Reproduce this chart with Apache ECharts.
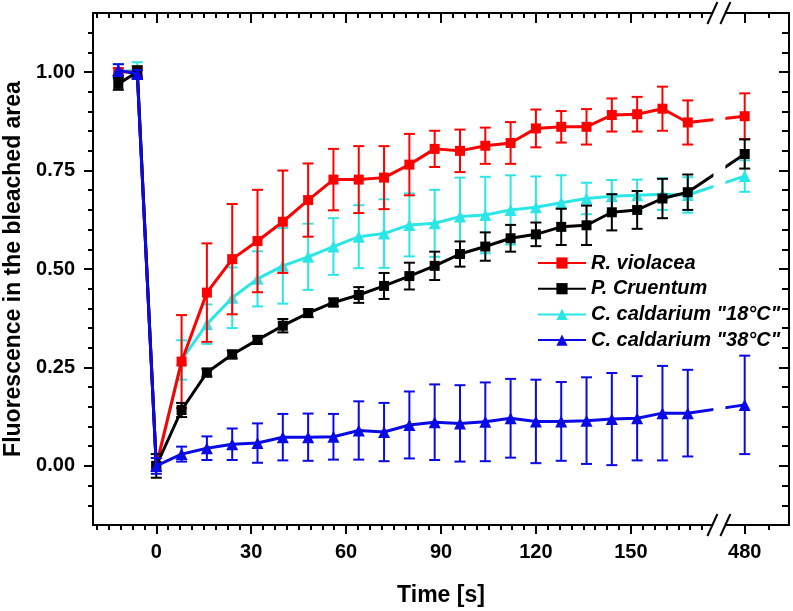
<!DOCTYPE html>
<html>
<head>
<meta charset="utf-8">
<script src="https://cdn.jsdelivr.net/npm/echarts@6/dist/echarts.min.js"></script>
<style>html,body{margin:0;padding:0;background:#fff;}#c{width:793px;height:611px;}</style>
</head>
<body>
<div id="c"></div>
<script>
// ---- data (time in s; the last point lies after the axis break) ----
const time = [-12, -6, 0, 8, 16, 24, 32, 40, 48, 56, 64, 72, 80, 88, 96, 104, 112, 120, 128, 136, 144, 152, 160, 168, 480];

const seriesNames = ['R. violacea', 'P. Cruentum', 'C. caldarium "18°C"', 'C. caldarium "38°C"'];

const rViolacea    = [1.00, 1.00, 0.00, 0.265, 0.44, 0.525, 0.571, 0.62, 0.675, 0.727, 0.727, 0.732, 0.765, 0.805, 0.80, 0.813, 0.82, 0.857, 0.861, 0.861, 0.891, 0.893, 0.907, 0.872, 0.888];
const rViolaceaErr = [0.01, 0.01, 0.00, 0.118, 0.125, 0.14, 0.13, 0.13, 0.093, 0.078, 0.085, 0.08, 0.078, 0.046, 0.054, 0.046, 0.053, 0.048, 0.04, 0.045, 0.042, 0.044, 0.056, 0.056, 0.058];

const pCruentum    = [0.97, 1.00, 0.00, 0.142, 0.237, 0.283, 0.32, 0.356, 0.388, 0.415, 0.434, 0.457, 0.482, 0.508, 0.538, 0.557, 0.578, 0.588, 0.607, 0.611, 0.644, 0.65, 0.679, 0.695, 0.792];
const pCruentumErr = [0.015, 0.015, 0.03, 0.018, 0.01, 0.01, 0.01, 0.017, 0.01, 0.01, 0.02, 0.033, 0.034, 0.036, 0.032, 0.036, 0.034, 0.03, 0.046, 0.05, 0.046, 0.048, 0.05, 0.045, 0.037];

const cCald18    = [1.00, 1.005, 0.00, 0.269, 0.36, 0.427, 0.475, 0.508, 0.531, 0.557, 0.582, 0.59, 0.612, 0.616, 0.633, 0.637, 0.65, 0.657, 0.668, 0.679, 0.685, 0.687, 0.69, 0.688, 0.736];
const cCald18Err = [0.02, 0.02, 0.00, 0.05, 0.05, 0.077, 0.07, 0.096, 0.084, 0.072, 0.08, 0.087, 0.08, 0.085, 0.099, 0.097, 0.088, 0.078, 0.07, 0.04, 0.041, 0.04, 0.04, 0.045, 0.04];

const cCald38    = [1.005, 0.995, 0.00, 0.03, 0.045, 0.055, 0.058, 0.073, 0.073, 0.074, 0.09, 0.086, 0.104, 0.111, 0.108, 0.112, 0.121, 0.113, 0.113, 0.115, 0.119, 0.121, 0.134, 0.134, 0.155];
const cCald38Err = [0.015, 0.01, 0.02, 0.019, 0.03, 0.04, 0.05, 0.059, 0.06, 0.058, 0.074, 0.074, 0.085, 0.096, 0.097, 0.1, 0.1, 0.106, 0.1, 0.11, 0.117, 0.107, 0.12, 0.11, 0.125];

const xMajorTicks = [0, 30, 60, 90, 120, 150, 480];
const xMinorTicks = [-18.75, -15, -11.25, -7.5, -3.75, 3.75, 7.5, 11.25, 15, 18.75, 22.5, 26.25, 33.75, 37.5, 41.25, 45, 48.75, 52.5, 56.25, 63.75, 67.5, 71.25, 75, 78.75, 82.5, 86.25, 93.75, 97.5, 101.25, 105, 108.75, 112.5, 116.25, 123.75, 127.5, 131.25, 135, 138.75, 142.5, 146.25, 153.75, 157.5, 161.25, 165, 168.75, 172.5, 487.5];
const yMajorTicks = [0, 0.25, 0.5, 0.75, 1.0];
const yMinorTicks = [-0.10, -0.05, 0.05, 0.10, 0.15, 0.20, 0.30, 0.35, 0.40, 0.45, 0.55, 0.60, 0.65, 0.70, 0.80, 0.85, 0.90, 0.95, 1.05, 1.10];

// ---- axis break mapping (break between 168 s and 480 s) ----
const BREAK_AT = 178;      // axis position of the break
const BREAK_SHIFT = 294;   // 480 s is drawn at 186 on the compressed axis
function tx(t) { return t > BREAK_AT ? t - BREAK_SHIFT : t; }
function untx(v) { return v > BREAK_AT ? v + BREAK_SHIFT : v; }

const colors = ['#ff0000', '#000000', '#2ce6e6', '#0a0ae6'];
const symbols = ['rect', 'rect', 'triangle', 'triangle'];
const symSizes = [10, 10, 12, 12];
const zs = [3, 4, 2, 5];
const vals = [rViolacea, pCruentum, cCald18, cCald38];
const errs = [rViolaceaErr, pCruentumErr, cCald18Err, cCald38Err];

const FONT = "'Liberation Sans', Arial, Helvetica, sans-serif";

const series = [];
vals.forEach((v, i) => {
  const col = colors[i];
  series.push({
    name: seriesNames[i] + '_err', type: 'custom', xAxisIndex: 0, yAxisIndex: 0, z: zs[i],
    silent: true, animation: false,
    encode: { x: 0, y: [1, 2] },
    data: time.map((t, k) => [tx(t), v[k] - errs[i][k], v[k] + errs[i][k]]),
    renderItem: function (params, api) {
      const x = api.value(0), lo = api.value(1), hi = api.value(2);
      if (hi - lo < 1e-9) return null;
      const p1 = api.coord([x, lo]), p2 = api.coord([x, hi]);
      const w = 5.5, st = { stroke: col, lineWidth: 2 };
      return { type: 'group', children: [
        { type: 'line', shape: { x1: p1[0], y1: p1[1], x2: p2[0], y2: p2[1] }, style: st },
        { type: 'line', shape: { x1: p1[0] - w, y1: p1[1], x2: p1[0] + w, y2: p1[1] }, style: st },
        { type: 'line', shape: { x1: p2[0] - w, y1: p2[1], x2: p2[0] + w, y2: p2[1] }, style: st }
      ]};
    }
  });
  series.push({
    name: seriesNames[i], type: 'line', xAxisIndex: 0, yAxisIndex: 0, z: zs[i],
    animation: false, showSymbol: true, symbol: symbols[i], symbolSize: symSizes[i],
    lineStyle: { color: col, width: 3 }, itemStyle: { color: col },
    data: time.map((t, k) => [tx(t), v[k]])
  });
});

const axisLineStyle = { color: '#000', width: 2 };
const tickStyle = { color: '#000', width: 2 };

const chart = echarts.init(document.getElementById('c'), null, { renderer: 'canvas' });
chart.setOption({
  backgroundColor: '#fff',
  animation: false,
  grid: { left: 93, right: 4, top: 13, bottom: 86, outerBoundsMode: 'none' },
  legend: {
    data: seriesNames, orient: 'vertical', left: 537, top: 253, padding: 0, z: 300,
    itemWidth: 48, itemHeight: 14, itemGap: 5.7,
    textStyle: { fontFamily: FONT, fontSize: 20, fontWeight: 'bold', fontStyle: 'italic', color: '#000' }
  },
  xAxis: [
    { type: 'value', min: -20, max: 200, position: 'bottom',
      axisLine: { show: true, onZero: false, lineStyle: axisLineStyle },
      axisTick: { show: true, inside: false, length: 9, lineStyle: tickStyle, customValues: xMajorTicks.map(tx) },
      axisLabel: { show: true, customValues: xMajorTicks.map(tx), margin: 17, formatter: v => String(Math.round(untx(v))),
        fontFamily: FONT, fontSize: 20, fontWeight: 'bold', color: '#000' },
      splitLine: { show: false },
      name: 'Time [s]', nameLocation: 'middle', nameGap: 59,
      nameTextStyle: { fontFamily: FONT, fontSize: 23, fontWeight: 'bold', color: '#000' } },
    { type: 'value', min: -20, max: 200, position: 'bottom',
      axisLine: { show: false, onZero: false },
      axisTick: { show: true, inside: false, length: 5, lineStyle: tickStyle, customValues: xMinorTicks.map(tx) },
      axisLabel: { show: false }, splitLine: { show: false } },
    { type: 'value', min: -20, max: 200, position: 'top',
      axisLine: { show: true, onZero: false, lineStyle: axisLineStyle },
      axisTick: { show: true, inside: true, length: 10, lineStyle: tickStyle, customValues: xMajorTicks.map(tx) },
      axisLabel: { show: false }, splitLine: { show: false } },
    { type: 'value', min: -20, max: 200, position: 'top',
      axisLine: { show: false, onZero: false },
      axisTick: { show: true, inside: true, length: 5, lineStyle: tickStyle, customValues: xMinorTicks.map(tx) },
      axisLabel: { show: false }, splitLine: { show: false } }
  ],
  yAxis: [
    { type: 'value', min: -0.15, max: 1.15, position: 'left',
      axisLine: { show: true, onZero: false, lineStyle: axisLineStyle },
      axisTick: { show: true, inside: false, length: 9, lineStyle: tickStyle, customValues: yMajorTicks },
      axisLabel: { show: true, customValues: yMajorTicks, margin: 18, formatter: v => v.toFixed(2),
        fontFamily: FONT, fontSize: 20, fontWeight: 'bold', color: '#000' },
      splitLine: { show: false },
      name: 'Fluorescence in the bleached area', nameLocation: 'middle', nameGap: 66,
      nameTextStyle: { fontFamily: FONT, fontSize: 23, fontWeight: 'bold', color: '#000' } },
    { type: 'value', min: -0.15, max: 1.15, position: 'left',
      axisLine: { show: false, onZero: false },
      axisTick: { show: true, inside: false, length: 5, lineStyle: tickStyle, customValues: yMinorTicks },
      axisLabel: { show: false }, splitLine: { show: false } },
    { type: 'value', min: -0.15, max: 1.15, position: 'right',
      axisLine: { show: true, onZero: false, lineStyle: axisLineStyle },
      axisTick: { show: true, inside: true, length: 10, lineStyle: tickStyle, customValues: yMajorTicks },
      axisLabel: { show: false }, splitLine: { show: false } },
    { type: 'value', min: -0.15, max: 1.15, position: 'right',
      axisLine: { show: false, onZero: false },
      axisTick: { show: true, inside: true, length: 7, lineStyle: tickStyle, customValues: yMinorTicks },
      axisLabel: { show: false }, splitLine: { show: false } }
  ],
  series: series
});

// ---- axis break marks, positioned through the axis scale ----
const bx = chart.convertToPixel({ xAxisIndex: 0 }, BREAK_AT);
const yTop = chart.convertToPixel({ yAxisIndex: 0 }, 1.15);
const yBot = chart.convertToPixel({ yAxisIndex: 0 }, -0.15);
function breakMarks(y) {
  return [
    { type: 'rect', shape: { x: bx - 6.5, y: y - 3, width: 13, height: 6 }, style: { fill: '#fff' }, z: 200 },
    { type: 'line', shape: { x1: bx - 12, y1: y + 11, x2: bx - 2, y2: y - 11 }, style: { stroke: '#000', lineWidth: 2 }, z: 201 },
    { type: 'line', shape: { x1: bx + 1, y1: y + 11, x2: bx + 11, y2: y - 11 }, style: { stroke: '#000', lineWidth: 2 }, z: 201 }
  ];
}
chart.setOption({
  graphic: [
    { type: 'rect', shape: { x: bx - 6, y: yTop + 3, width: 12, height: yBot - yTop - 6 }, style: { fill: '#fff' }, z: 150 }
  ].concat(breakMarks(yTop)).concat(breakMarks(yBot))
});
</script>
</body>
</html>
